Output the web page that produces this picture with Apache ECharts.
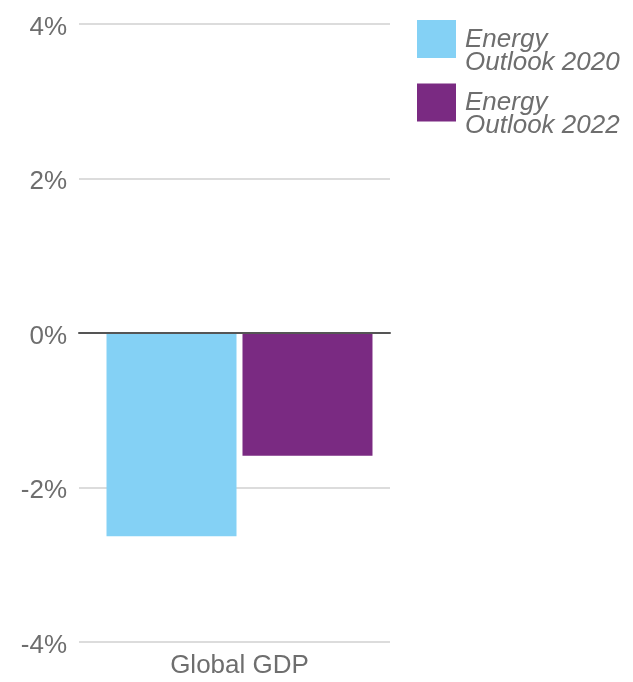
<!DOCTYPE html>
<html>
<head>
<meta charset="utf-8">
<script src="https://cdn.jsdelivr.net/npm/echarts@6/dist/echarts.min.js"></script>
<style>
  html, body { margin: 0; padding: 0; background: #ffffff; }
  #chart { width: 633px; height: 682px; }
</style>
</head>
<body>
<div id="chart"></div>
<script>
// GDP impact by outlook edition (percent)
const categories = ['Global GDP'];
const seriesNames = ['Energy\nOutlook 2020', 'Energy\nOutlook 2022'];
const values2020 = [-2.63];
const values2022 = [-1.59];
const yMin = -4;
const yMax = 4;
const yStep = 2;

const colors = ['#84d1f5', '#7a2a82'];
const textColor = '#6e6e6e';
const fontFamily = '"Liberation Sans", Arial, Helvetica, sans-serif';

const chart = echarts.init(document.getElementById('chart'), null, { renderer: 'canvas' });

// legend label: a spacer line pushes the two text lines below the swatch top
function legendLabel(name) {
  return '{s| }\n' + name.split('\n').map(function (l) { return '{t|' + l + '}'; }).join('\n');
}

// tick label: a small spacer line sets the figures slightly below the gridline
function tickLabel(value) {
  return '{s| }\n{v|' + value + '%}';
}

chart.setOption({
  backgroundColor: '#ffffff',
  animation: false,
  textStyle: { fontFamily: fontFamily },
  legend: {
    orient: 'vertical',
    left: 417,
    top: 4,
    padding: 0,
    itemWidth: 39,
    itemHeight: 38,
    itemGap: -8,
    icon: 'rect',
    selectedMode: false,
    data: seriesNames,
    formatter: legendLabel,
    textStyle: {
      color: textColor,
      fontSize: 26,
      fontStyle: 'italic',
      fontFamily: fontFamily,
      rich: {
        s: { fontSize: 10, height: 24, lineHeight: 24 },
        t: {
          color: textColor,
          fontSize: 26,
          fontStyle: 'italic',
          fontFamily: fontFamily,
          lineHeight: 23,
          padding: [0, 0, 0, 4]
        }
      }
    }
  },
  grid: [
    // frame for gridlines, tick labels and the zero line
    { left: 79, right: 243, top: 24, bottom: 40 },
    // bar area
    { left: 89, right: 243, top: 24, bottom: 40 }
  ],
  xAxis: [
    {
      gridIndex: 0,
      type: 'category',
      data: categories,
      axisLine: { show: true, onZero: true, lineStyle: { color: '#555555', width: 2 } },
      axisTick: { show: false },
      axisLabel: { show: false },
      z: 5
    },
    {
      gridIndex: 1,
      type: 'category',
      data: categories,
      axisLine: { show: false, onZero: false },
      axisTick: { show: false },
      axisLabel: {
        color: textColor,
        fontSize: 26,
        margin: 11
      }
    }
  ],
  yAxis: [
    {
      gridIndex: 0,
      type: 'value',
      min: yMin,
      max: yMax,
      interval: yStep,
      axisLine: { show: false },
      axisTick: { show: false },
      axisLabel: {
        formatter: tickLabel,
        color: textColor,
        fontSize: 26,
        margin: 12,
        rich: {
          s: { fontSize: 6, height: 7, lineHeight: 7 },
          v: { color: textColor, fontSize: 26, fontFamily: fontFamily, lineHeight: 26 }
        }
      },
      splitLine: { lineStyle: { color: '#dcdcdc', width: 2 } }
    },
    {
      gridIndex: 1,
      type: 'value',
      min: yMin,
      max: yMax,
      interval: yStep,
      show: false,
      splitLine: { show: false }
    }
  ],
  series: [
    {
      name: seriesNames[0],
      type: 'bar',
      xAxisIndex: 1,
      yAxisIndex: 1,
      data: values2020,
      barWidth: 130,
      barGap: '4.6%',
      itemStyle: { color: colors[0] }
    },
    {
      name: seriesNames[1],
      type: 'bar',
      xAxisIndex: 1,
      yAxisIndex: 1,
      data: values2022,
      barWidth: 130,
      barGap: '4.6%',
      itemStyle: { color: colors[1] }
    }
  ]
});
</script>
</body>
</html>
